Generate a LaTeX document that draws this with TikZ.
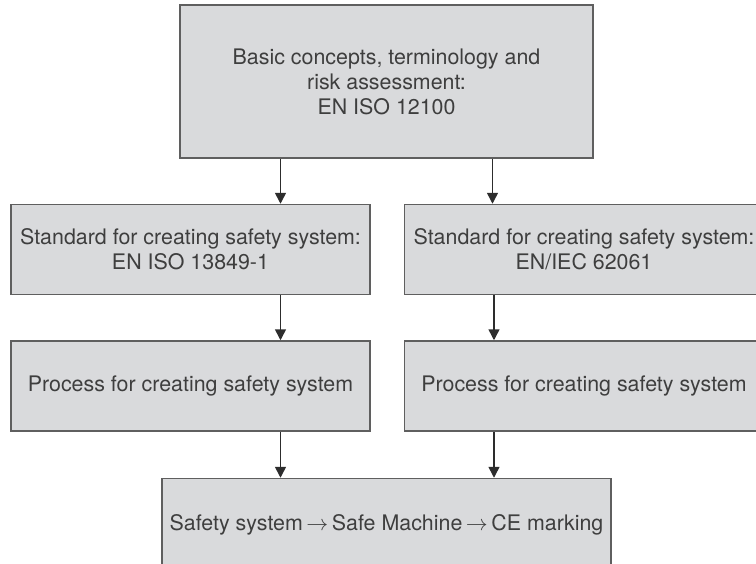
\documentclass[tikz,border=0pt]{standalone}
\usepackage{fontspec}
\setmainfont{TeX Gyre Heros}
\usepackage{xcolor}
\usepackage{tikz}
\usetikzlibrary{arrows.meta,positioning}
\definecolor{boxfill}{RGB}{217,218,220}
\definecolor{boxline}{RGB}{95,95,95}
\definecolor{inkgray}{RGB}{62,62,62}
\definecolor{arrowgray}{RGB}{45,45,45}
\tikzset{
  topbox/.style={
    draw=boxline,
    fill=boxfill,
    line width=0.75pt,
    align=center,
    inner sep=0pt,
    minimum width=206.5pt,
    minimum height=76.5pt,
    text=inkgray,
    font=\fontsize{10.7}{12.5}\selectfont
  },
  stdbox/.style={
    topbox,
    minimum width=179.5pt,
    minimum height=45pt
  },
  finalbox/.style={
    topbox,
    minimum width=224.5pt,
    minimum height=46pt
  },
  flow/.style={-{Triangle[length=5.5pt,width=5.5pt]}, line width=0.75pt, draw=arrowgray}
}

\begin{document}
\begin{tikzpicture}
  \useasboundingbox (0,0) rectangle (378pt,-281.5pt);

  \node[topbox] (basics) at (193.25pt,-40.75pt)
    {Basic concepts, terminology and\\risk assessment:\\EN ISO 12100};
  \node[stdbox, below=22.5pt of basics, xshift=-98pt] (iso)
    {Standard for creating safety system:\\EN ISO 13849-1};
  \node[stdbox, right=16.5pt of iso] (iec)
    {Standard for creating safety system:\\EN/IEC 62061};
  \node[stdbox, below=22.5pt of iso] (isoproc) {Process for creating safety system};
  \node[stdbox, below=22.5pt of iec] (iecproc) {Process for creating safety system};
  \node[finalbox, below=23pt of isoproc, xshift=98pt] (machine)
    {Safety system\,$\rightarrow$\,Safe Machine\,$\rightarrow$\,CE marking};

  \draw[flow] ([xshift=-53pt]basics.south) -- ([xshift=-53pt]basics.south |- iso.north);
  \draw[flow] ([xshift=53pt]basics.south) -- ([xshift=53pt]basics.south |- iec.north);
  \draw[flow] ([xshift=45pt]iso.south) -- ([xshift=45pt]isoproc.north);
  \draw[flow] ([xshift=-45pt]iec.south) -- ([xshift=-45pt]iecproc.north);
  \draw[flow] ([xshift=45pt]isoproc.south) -- ([xshift=45pt]isoproc.south |- machine.north);
  \draw[flow] ([xshift=-45pt]iecproc.south) -- ([xshift=-45pt]iecproc.south |- machine.north);
\end{tikzpicture}
\end{document}
